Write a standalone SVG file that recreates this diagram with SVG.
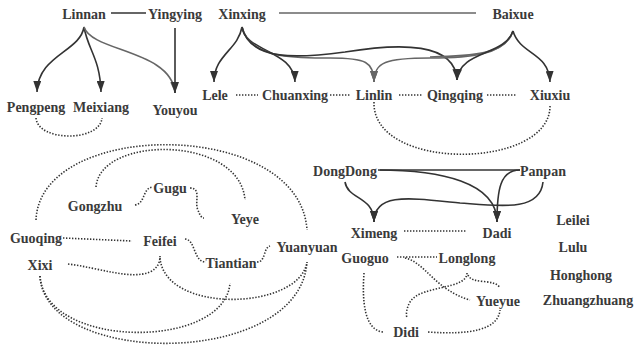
<svg xmlns="http://www.w3.org/2000/svg" width="635" height="347" viewBox="0 0 635 347">
<style>
text{font-family:"Liberation Serif","Times New Roman",serif;font-weight:bold;font-size:14px;fill:#3a3a3a;text-anchor:middle}
.s{fill:none;stroke:#333;stroke-width:1.6}
.g{fill:none;stroke:#666;stroke-width:1.6}
.d{fill:none;stroke:#333;stroke-width:1.6;stroke-dasharray:1.4 1.6}
.a{marker-end:url(#ah)}
.ag{marker-end:url(#ahg)}
</style>
<defs>
<marker id="ah" viewBox="0 0 11 8" refX="11" refY="4" markerWidth="11" markerHeight="8" markerUnits="userSpaceOnUse" orient="auto"><path d="M0,0 L11,4 L0,8 z" fill="#333"/></marker>
<marker id="ahg" viewBox="0 0 11 8" refX="11" refY="4" markerWidth="11" markerHeight="8" markerUnits="userSpaceOnUse" orient="auto"><path d="M0,0 L11,4 L0,8 z" fill="#666"/></marker>
</defs>
<g id="connectors">
<path class="s" d="M111,13 H146"/>
<path class="g" d="M279,13 H476"/>
<path class="s a" d="M84,27 C80,52 38,55 37,92"/>
<path class="s a" d="M84,27 C88,50 100,58 101,92"/>
<path class="g ag" d="M84,27 C92,52 172,50 175,93"/>
<path class="s a" d="M175,28 V93"/>
<path class="s a" d="M242,27 C238,50 214,55 214,82"/>
<path class="s a" d="M242,27 C245,52 294,50 295,82"/>
<path class="g ag" d="M242,27 C250,60 300,58 330,58 C366,58 374,62 374,82"/>
<path class="s a" d="M242,27 C250,62 300,58 345,52 C400,43 455,42 457,80"/>
<path class="g" d="M513,31 C506,55 470,56 430,57"/>
<path class="g ag" d="M513,31 C505,55 470,58 430,58 C386,58 374,62 374,82"/>
<path class="s a" d="M513,31 C505,56 460,50 457,80"/>
<path class="s a" d="M513,31 C520,55 549,52 550,82"/>
<path class="d" d="M236,95 H258"/>
<path class="d" d="M330,95 H350"/>
<path class="d" d="M399,95 H423"/>
<path class="d" d="M487,95 H517"/>
<path class="d" d="M36,118 C38,142 100,142 102,118"/>
<path class="d" d="M374,102 C372,172 550,170 550,106"/>
<path class="d" d="M36,220 C40,118 300,118 307,230"/>
<path class="d" d="M96,187 C100,135 240,135 245,200"/>
<path class="d" d="M135,205 C146,203 142,188 153,187"/>
<path class="d" d="M190,188 C202,188 194,203 198,210 C200,216 202,218 204,218"/>
<path class="d" d="M63,238 L132,241"/>
<path class="d" d="M185,239 C196,240 193,262 206,262"/>
<path class="d" d="M257,262 C266,262 263,248 270,246"/>
<path class="d" d="M68,264 C100,268 130,280 150,272 C158,268 160,262 160,256"/>
<path class="d" d="M160,258 C165,315 300,310 307,262"/>
<path class="d" d="M40,276 C45,350 225,350 230,283"/>
<path class="d" d="M40,276 C45,368 300,368 307,262"/>
<path class="s" d="M380,170 H520"/>
<path class="s a" d="M345,182 C348,200 374,196 374,222"/>
<path class="s a" d="M543,182 C540,212 500,206 460,203 C410,198 374,192 374,222"/>
<path class="s a" d="M378,170 C440,170 497,182 497,222"/>
<path class="s a" d="M520,170 C500,170 497,190 497,222"/>
<path class="d" d="M404,231 H467"/>
<path class="d" d="M397,257 H437"/>
<path class="d" d="M405,258 C425,262 435,290 470,300"/>
<path class="d" d="M467,273 C467,290 420,285 410,302 C406,309 406,315 407,318"/>
<path class="d" d="M468,275 C472,285 495,278 500,288"/>
<path class="d" d="M364,273 C362,300 364,330 383,332"/>
<path class="d" d="M428,332 C470,335 498,330 500,310"/>
</g>
<g id="Linnan"><text x="84" y="19">Linnan</text></g>
<g id="Yingying"><text x="175" y="19">Yingying</text></g>
<g id="Xinxing"><text x="242" y="19">Xinxing</text></g>
<g id="Baixue"><text x="513" y="19">Baixue</text></g>
<g id="Pengpeng"><text x="36" y="112">Pengpeng</text></g>
<g id="Meixiang"><text x="101" y="112">Meixiang</text></g>
<g id="Youyou"><text x="175" y="115">Youyou</text></g>
<g id="Lele"><text x="215" y="100">Lele</text></g>
<g id="Chuanxing"><text x="295" y="100">Chuanxing</text></g>
<g id="Linlin"><text x="374" y="100">Linlin</text></g>
<g id="Qingqing"><text x="455" y="100">Qingqing</text></g>
<g id="Xiuxiu"><text x="550" y="100">Xiuxiu</text></g>
<g id="Gongzhu"><text x="95" y="211">Gongzhu</text></g>
<g id="Gugu"><text x="170" y="193">Gugu</text></g>
<g id="Yeye"><text x="245" y="224">Yeye</text></g>
<g id="Guoqing"><text x="36" y="243">Guoqing</text></g>
<g id="Feifei"><text x="160" y="246">Feifei</text></g>
<g id="Tiantian"><text x="231" y="268">Tiantian</text></g>
<g id="Yuanyuan"><text x="307" y="252">Yuanyuan</text></g>
<g id="Xixi"><text x="40" y="270">Xixi</text></g>
<g id="DongDong"><text x="345" y="176">DongDong</text></g>
<g id="Panpan"><text x="543" y="176">Panpan</text></g>
<g id="Ximeng"><text x="374" y="238">Ximeng</text></g>
<g id="Dadi"><text x="497" y="238">Dadi</text></g>
<g id="Leilei"><text x="573" y="225">Leilei</text></g>
<g id="Lulu"><text x="573" y="252">Lulu</text></g>
<g id="Honghong"><text x="581" y="280">Honghong</text></g>
<g id="Zhuangzhuang"><text x="588" y="305">Zhuangzhuang</text></g>
<g id="Guoguo"><text x="365" y="263">Guoguo</text></g>
<g id="Longlong"><text x="467" y="263">Longlong</text></g>
<g id="Yueyue"><text x="498" y="306">Yueyue</text></g>
<g id="Didi"><text x="406" y="337">Didi</text></g>
</svg>
